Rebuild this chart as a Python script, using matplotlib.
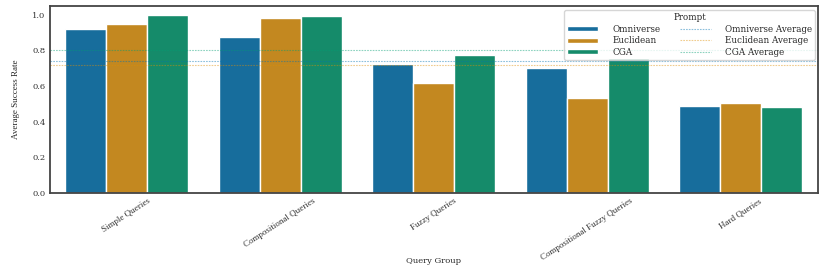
import matplotlib
matplotlib.use('Agg')
import matplotlib.pyplot as plt
import seaborn as sns
import pandas as pd
import numpy as np

groups = ['Simple Queries', 'Compositional Queries', 'Fuzzy Queries',
          'Compositional Fuzzy Queries', 'Hard Queries']
prompts = ['Omniverse', 'Euclidean', 'CGA']
omniverse = [0.921, 0.876, 0.723, 0.700, 0.486]
euclidean = [0.949, 0.983, 0.616, 0.531, 0.503]
cga = [1.000, 0.994, 0.774, 0.757, 0.480]

sns.set_style('white')
plt.rcParams['font.family'] = ['DejaVu Serif']

rows = []
for p, vals in zip(prompts, [omniverse, euclidean, cga]):
    for g, v in zip(groups, vals):
        rows.append({'Query Group': g, 'Prompt': p, 'Success': v})
df = pd.DataFrame(rows)

fig = plt.figure(figsize=(8.3, 2.68), dpi=100)
ax = fig.add_axes([0.06, 0.28, 0.925, 0.698])
palette = sns.color_palette('colorblind', 3)
sns.barplot(data=df, x='Query Group', y='Success', hue='Prompt', palette=palette,
            edgecolor='white', linewidth=1, ax=ax)

# dotted average line per prompt
line_handles = []
for p, vals, c in zip(prompts, [omniverse, euclidean, cga], palette):
    h = ax.axhline(np.mean(vals), color=c, linestyle='--', dashes=(1.5, 1),
                   linewidth=0.8, alpha=0.45, label=p + ' Average')
    line_handles.append(h)

ax.set_ylim(0, 1.05)
ax.set_xlim(-0.5, 4.5)
ax.set_xlabel('Query Group', fontsize=6)
ax.xaxis.set_label_coords(0.5, -0.34)
ax.set_ylabel('Average Success Rate', fontsize=6.5, family='Liberation Serif',
              labelpad=9)
ax.tick_params(axis='both', length=0, pad=3, colors='#333333')
ax.tick_params(axis='y', labelsize=6)
ax.tick_params(axis='x', labelsize=6.5)
plt.setp(ax.get_xticklabels(), rotation=33, ha='center', family='Liberation Serif')
for s in ax.spines.values():
    s.set_visible(True)
    s.set_color('#444444')
    s.set_linewidth(1.3)

bar_handles, bar_labels = ax.get_legend_handles_labels()
bh = bar_handles[:3]
leg = ax.legend(bh + line_handles, prompts + [p + ' Average' for p in prompts],
                title='Prompt', ncol=2, loc='upper right', fontsize=6.3,
                title_fontsize=6.3, frameon=True, handlelength=3.6,
                handleheight=0.5, handletextpad=1.6,
                borderpad=0.3, labelspacing=0.3, columnspacing=2.2,
                borderaxespad=0.3, bbox_to_anchor=(1.0, 0.99))
leg.get_frame().set_edgecolor('#cccccc')

fig.savefig('out.png', dpi=100)
